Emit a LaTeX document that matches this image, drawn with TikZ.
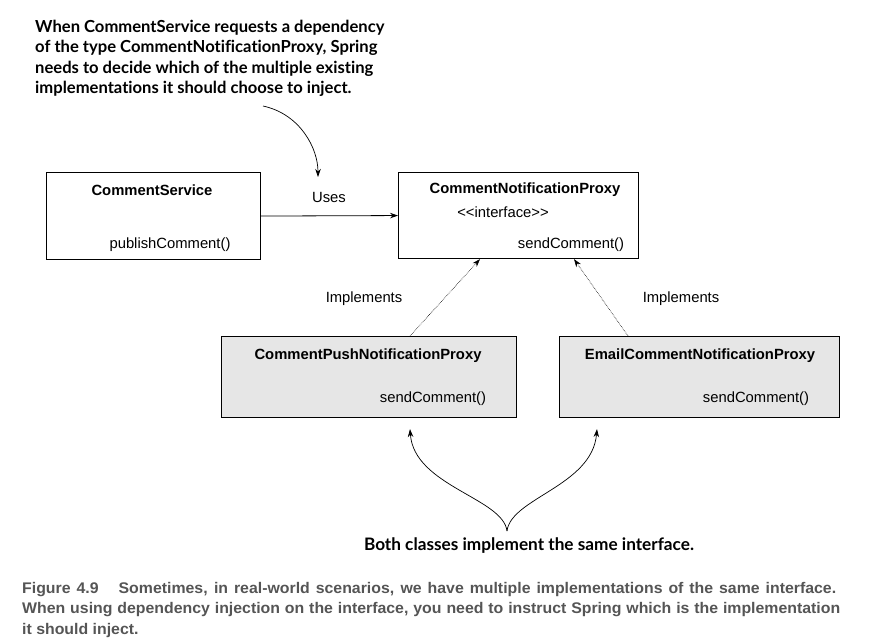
\documentclass[tikz,border=0pt]{standalone}
\usepackage{fontspec}
\setmainfont{Liberation Sans}
\newfontfamily\notefont[Ligatures=NoCommon]{Lato}
\newfontfamily\capfont[FakeStretch=1.03]{Liberation Sans}
\usetikzlibrary{arrows.meta,positioning}

\definecolor{boxgray}{RGB}{230,230,230}
\definecolor{capgray}{RGB}{85,85,85}

\tikzset{
  classbox/.style={draw, line width=1.1pt, anchor=north west, inner sep=0pt},
  impbox/.style={classbox, fill=boxgray},
  boxtitle/.style={font=\fontsize{14.8}{17}\selectfont\bfseries, inner sep=0pt},
  boxtext/.style={font=\fontsize{14.8}{17}\selectfont, inner sep=0pt},
  notetext/.style={font=\notefont\bfseries\fontsize{16.6}{20.3}\selectfont, inner sep=0pt, align=left},
  captext/.style={font=\capfont\bfseries\fontsize{15.4}{20}\selectfont, text=capgray, inner sep=0pt, anchor=base west},
  tip/.style={-{Stealth[length=8pt,width=5.5pt]}},
}

\begin{document}
\begin{tikzpicture}[x=1pt,y=-1pt]
  \useasboundingbox (0,0) rectangle (869,639);

  % Class boxes
  \node[classbox, minimum width=214pt, minimum height=87pt] (svc) at (46,172) {};
  \node[classbox, minimum width=240pt, minimum height=86pt] (iface) at (398,172) {};
  \node[impbox, minimum width=295pt, minimum height=81pt] (push) at (221,336) {};
  \node[impbox, minimum width=280pt, minimum height=81pt] (email) at (559,336) {};

  % Texts in the boxes
  \node[boxtitle] (svcName) at (152,190) {CommentService};
  \node[boxtext] (svcOp) at (170,245) {publishComment()};
  \node[boxtitle] (ifaceName) at (525,190) {CommentNotificationProxy};
  \node[boxtext] (ifaceTag) at (503,212) {<{}<interface>{}>};
  \node[boxtext] (ifaceOp) at (571,245) {sendComment()};
  \node[boxtitle] (pushName) at (368,356) {CommentPushNotificationProxy};
  \node[boxtext] (pushOp) at (433,399) {sendComment()};
  \node[boxtitle] (emailName) at (700,356) {EmailCommentNotificationProxy};
  \node[boxtext] (emailOp) at (756,399) {sendComment()};

  % Relations
  \draw[tip, line width=0.8pt] (svc.east) -- (iface.west);
  \node[boxtext] (usesLabel) at (329,197) {Uses};
  \draw[tip, line width=0.6pt, densely dotted] ([xshift=189pt]push.north west) -- ([xshift=82pt]iface.south west);
  \draw[tip, line width=0.6pt, densely dotted] ([xshift=69pt]email.north west) -- ([xshift=176pt]iface.south west);
  \node[boxtext] (implLeft) at (364,299) {Implements};
  \node[boxtext] (implRight) at (681,299) {Implements};

  % Annotation at the top
  \node[notetext, anchor=north west] (note) at (35,20) {When CommentService requests a dependency\\
    of the type CommentNotificationProxy, Spring\\
    needs to decide which of the multiple existing\\
    implementations it should choose to inject.};
  \coordinate (noteTail) at (263,106);
  \coordinate (noteTip) at (318,177);
  \draw[tip, line width=0.7pt] (noteTail) .. controls (300,114) and (318,148) .. (noteTip);

  % Annotation at the bottom
  \node[notetext, font=\notefont\bfseries\fontsize{17.2}{20.3}\selectfont] (both) at (529,546) {Both classes implement the same interface.};
  \coordinate (fork) at (507,531);
  \draw[tip, line width=0.7pt] (fork) .. controls (503,498) and (414,486) .. ([xshift=189pt,yshift=-11pt]push.south west);
  \draw[tip, line width=0.7pt] (fork) .. controls (511,498) and (592,486) .. ([xshift=38pt,yshift=-11pt]email.south west);

  % Caption
  \node[captext] (cap1) at (22,593) {\makebox[814pt][s]{Figure 4.9\hspace{20pt}Sometimes, in real-world scenarios, we have multiple implementations of the same interface.}};
  \node[captext] (cap2) at (22,613.5) {\makebox[818pt][s]{When using dependency injection on the interface, you need to instruct Spring which is the implementation}};
  \node[captext] (cap3) at (22,634) {it should inject.};
\end{tikzpicture}
\end{document}
